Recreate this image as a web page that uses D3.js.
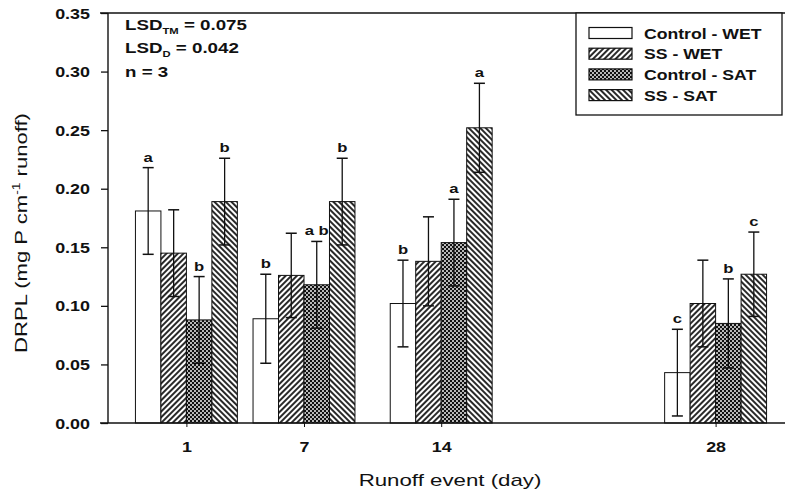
<!DOCTYPE html>
<html><head><meta charset="utf-8">
<script src="https://cdn.jsdelivr.net/npm/d3@7/dist/d3.min.js"></script>
<style>
body{margin:0;background:#fff;}
svg{display:block;font-family:"Liberation Sans",Arial,sans-serif;}
</style></head>
<body><svg id="c" width="785" height="495"></svg>
<script>
// ---- data ----
const days = [1, 7, 14, 28];
const seriesNames = ["Control - WET", "SS - WET", "Control - SAT", "SS - SAT"];
const controlWet = [0.181, 0.089, 0.102, 0.043];
const ssWet      = [0.145, 0.126, 0.138, 0.102];
const controlSat = [0.088, 0.118, 0.154, 0.085];
const ssSat      = [0.189, 0.189, 0.252, 0.127];
const controlWetErr = [0.037, 0.038, 0.037, 0.037];
const ssWetErr      = [0.037, 0.036, 0.038, 0.037];
const controlSatErr = [0.037, 0.037, 0.037, 0.038];
const ssSatErr      = [0.037, 0.037, 0.038, 0.036];
const controlWetLetters = ["a", "b", "b", "c"];
const ssWetLetters      = ["", "", "", ""];
const controlSatLetters = ["b", "a b", "a", "b"];
const ssSatLetters      = ["b", "b", "a", "c"];
const yTicks = [0, 0.05, 0.10, 0.15, 0.20, 0.25, 0.30, 0.35];
const statLines = ["LSD", "LSD", "n = 3"];

const values = [controlWet, ssWet, controlSat, ssSat];
const errs = [controlWetErr, ssWetErr, controlSatErr, ssSatErr];
const letters = [controlWetLetters, ssWetLetters, controlSatLetters, ssSatLetters];
const fills = ["#fff", "url(#hatchF)", "url(#cross)", "url(#hatchB)"];

const svg = d3.select("#c");
const defs = svg.append("defs");
function hatch(id, angle) {
  const p = defs.append("pattern").attr("id", id).attr("patternUnits", "userSpaceOnUse")
    .attr("width", 4).attr("height", 4).attr("patternTransform", `rotate(${angle})`);
  p.append("rect").attr("width", 4).attr("height", 4).attr("fill", "#fff");
  p.append("line").attr("x1", 1).attr("x2", 1).attr("y1", 0).attr("y2", 4)
    .attr("stroke", "#111").attr("stroke-width", 1.8);
}
hatch("hatchF", 45);
hatch("hatchB", -45);
const cp = defs.append("pattern").attr("id", "cross").attr("patternUnits", "userSpaceOnUse")
  .attr("width", 4).attr("height", 4);
cp.append("rect").attr("width", 4).attr("height", 4).attr("fill", "#111");
cp.append("circle").attr("cx", 1).attr("cy", 1).attr("r", 0.95).attr("fill", "#fff");
cp.append("circle").attr("cx", 3).attr("cy", 3).attr("r", 0.95).attr("fill", "#fff");

const x = d3.scaleLinear().domain([-3, 32]).range([108, 794]);
const y = d3.scaleLinear().domain([0, 0.35]).range([423, 13]);
const bw = x(1.3) - x(0);
const SX = 1.28;

// bars
for (let s = 0; s < 4; s++) {
  const g = svg.append("g");
  days.forEach((d, i) => {
    const cx = x(d) + (s - 1.5) * bw;
    const v = values[s][i], e = errs[s][i];
    g.append("rect").attr("x", cx - bw / 2).attr("y", y(v)).attr("width", bw)
      .attr("height", y(0) - y(v)).attr("fill", fills[s])
      .attr("stroke", "#111").attr("stroke-width", 1);
    // error bar
    g.append("line").attr("x1", cx).attr("x2", cx).attr("y1", y(v + e)).attr("y2", y(v - e))
      .attr("stroke", "#111").attr("stroke-width", 1.3);
    [v + e, v - e].forEach(t => {
      g.append("line").attr("x1", cx - 5.5).attr("x2", cx + 5.5).attr("y1", y(t)).attr("y2", y(t))
        .attr("stroke", "#111").attr("stroke-width", 1.5);
    });
    const L = letters[s][i];
    if (L) {
      g.append("text").attr("transform", `translate(${cx},${y(v + e) - 6}) scale(${SX},1)`)
        .attr("text-anchor", "middle").attr("font-size", 13).attr("font-weight", "bold")
        .attr("fill", "#111").text(L);
    }
  });
}

// axes lines
svg.append("line").attr("x1", 100).attr("x2", 785).attr("y1", y(0)).attr("y2", y(0))
  .attr("stroke", "#111").attr("stroke-width", 1.6);
svg.append("line").attr("x1", 100).attr("x2", 785).attr("y1", y(0.35)).attr("y2", y(0.35))
  .attr("stroke", "#111").attr("stroke-width", 1.6);
svg.append("line").attr("x1", 108).attr("x2", 108).attr("y1", y(0.35)).attr("y2", y(0))
  .attr("stroke", "#111").attr("stroke-width", 1.4);

// y axis ticks
const yAxis = svg.append("g").attr("transform", "translate(108,0)")
  .call(d3.axisLeft(y).tickValues(yTicks).tickSize(7).tickFormat(d3.format(".2f")));
yAxis.select(".domain").remove();
yAxis.selectAll(".tick line").attr("stroke", "#111").attr("stroke-width", 1.3);
yAxis.selectAll(".tick text").each(function () {
  const t = d3.select(this);
  t.attr("x", null).attr("dy", null).attr("font-size", 14).attr("font-weight", "bold")
    .attr("font-family", "Liberation Sans, Arial, sans-serif").attr("fill", "#111")
    .attr("transform", `translate(-18,5) scale(${SX},1)`);
});

// x axis ticks
const xAxis = svg.append("g").attr("transform", `translate(0,${y(0)})`)
  .call(d3.axisBottom(x).tickValues(days).tickSize(4).tickFormat(d3.format("d")));
xAxis.select(".domain").remove();
xAxis.selectAll(".tick line").attr("stroke", "#111").attr("stroke-width", 1);
xAxis.selectAll(".tick text").each(function () {
  d3.select(this).attr("y", null).attr("dy", null).attr("font-size", 14).attr("font-weight", "bold")
    .attr("font-family", "Liberation Sans, Arial, sans-serif").attr("fill", "#111")
    .attr("transform", `translate(0,29) scale(${SX},1)`);
});

// axis titles
svg.append("text").attr("transform", `translate(450,486) scale(1.31,1)`)
  .attr("text-anchor", "middle").attr("font-size", 17).attr("fill", "#111").text("Runoff event (day)");
const yt = svg.append("text").attr("transform", `translate(27,233) rotate(-90) scale(1.38,1)`)
  .attr("text-anchor", "middle").attr("font-size", 16).attr("fill", "#111");
yt.append("tspan").text("DRPL (mg P cm");
yt.append("tspan").attr("font-size", 10).attr("dy", -7).text("-1");
yt.append("tspan").attr("dy", 7).text(" runoff)");

// stat text
const st = svg.append("g").attr("font-size", 15).attr("font-weight", "bold").attr("fill", "#111");
const subs = ["TM", "D"];
const vals = [" = 0.075", " = 0.042"];
[30, 53].forEach((by, i) => {
  const t = st.append("text").attr("transform", `translate(125,${by}) scale(1.25,1)`);
  t.append("tspan").text(statLines[i]);
  t.append("tspan").attr("font-size", 9).attr("dy", 4).text(subs[i]);
  t.append("tspan").attr("dy", -4).text(vals[i]);
});
st.append("text").attr("transform", `translate(125,77) scale(1.25,1)`).text(statLines[2]);

// legend
const lg = svg.append("g");
lg.append("rect").attr("x", 576).attr("y", 13).attr("width", 206).attr("height", 102)
  .attr("fill", "#fff").attr("stroke", "#111").attr("stroke-width", 1.3);
seriesNames.forEach((n, i) => {
  const cy = 33 + i * 20.7;
  lg.append("rect").attr("x", 589).attr("y", cy - 5.5).attr("width", 43).attr("height", 11)
    .attr("fill", fills[i]).attr("stroke", "#111").attr("stroke-width", 1.2);
  lg.append("text").attr("transform", `translate(644,${cy + 5.5}) scale(1.26,1)`)
    .attr("font-size", 14).attr("font-weight", "bold").attr("fill", "#111").text(n);
});
</script></body></html>
